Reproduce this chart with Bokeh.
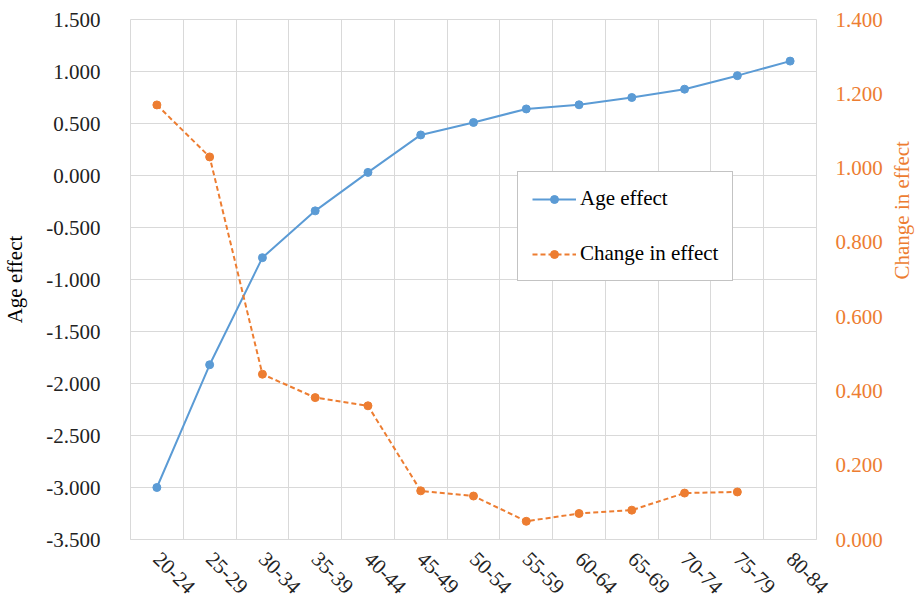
from bokeh.plotting import figure
from bokeh.models import (Range1d, LinearAxis, FixedTicker, NumeralTickFormatter,
                          Legend, LegendItem)
from bokeh.embed import file_html
from bokeh.resources import INLINE

categories = ["20-24", "25-29", "30-34", "35-39", "40-44", "45-49", "50-54",
              "55-59", "60-64", "65-69", "70-74", "75-79", "80-84"]
age_effect = [-3.00, -1.82, -0.79, -0.34, 0.03, 0.39, 0.51, 0.64, 0.68, 0.75, 0.83, 0.96, 1.10]
change_cats = categories[:12]
change_effect = [1.17, 1.03, 0.445, 0.382, 0.360, 0.131, 0.117, 0.049, 0.070, 0.079, 0.125, 0.128]
left_ticks = [-3.5, -3.0, -2.5, -2.0, -1.5, -1.0, -0.5, 0.0, 0.5, 1.0, 1.5]
right_ticks = [0.0, 0.2, 0.4, 0.6, 0.8, 1.0, 1.2, 1.4]

BLUE = "#5B9BD5"
ORANGE = "#ED7D31"
GRID = "#D9D9D9"
FONT = "Liberation Serif"
FS = "21px"

xi = {c: i for i, c in enumerate(categories)}
x_age = [xi[c] for c in categories]
x_chg = [xi[c] for c in change_cats]

p = figure(frame_width=686, frame_height=520, output_backend="svg", toolbar_location=None,
           x_range=Range1d(-0.5, len(categories) - 0.5), y_range=Range1d(-3.5, 1.5),
           min_border_left=121, min_border_right=60, min_border_top=19, min_border_bottom=50)
p.extra_y_ranges = {"right": Range1d(0.0, 1.4)}
p.outline_line_color = GRID
p.background_fill_color = "white"
p.border_fill_color = "white"

# x axis
p.xaxis.ticker = FixedTicker(ticks=x_age)
p.xaxis.major_label_overrides = {i: c for i, c in enumerate(categories)}
p.xaxis.major_label_orientation = -0.785398
p.xaxis.axis_line_color = GRID
p.xaxis.major_tick_line_color = None
p.xaxis.minor_tick_line_color = None
p.xaxis.major_label_text_font = FONT
p.xaxis.major_label_text_font_size = FS
p.xaxis.major_label_text_color = "#222222"
p.xaxis.major_label_standoff = 10

p.xgrid.ticker = FixedTicker(ticks=[i - 0.5 for i in range(len(categories) + 1)])
p.xgrid.grid_line_color = GRID
p.ygrid.ticker = FixedTicker(ticks=left_ticks)
p.ygrid.grid_line_color = GRID

# left axis
p.yaxis.ticker = FixedTicker(ticks=left_ticks)
p.yaxis.formatter = NumeralTickFormatter(format="0.000")
p.yaxis.axis_line_color = None
p.yaxis.major_tick_line_color = None
p.yaxis.minor_tick_line_color = None
p.yaxis.major_label_text_font = FONT
p.yaxis.major_label_text_font_size = FS
p.yaxis.major_label_text_color = "#222222"
p.yaxis.major_label_standoff = 24
p.yaxis.axis_label = "Age effect"
p.yaxis.axis_label_text_font = FONT
p.yaxis.axis_label_text_font_size = FS
p.yaxis.axis_label_text_font_style = "normal"
p.yaxis.axis_label_text_color = "#000000"
p.yaxis.axis_label_standoff = 16

# right axis
ra = LinearAxis(y_range_name="right", ticker=FixedTicker(ticks=right_ticks),
                formatter=NumeralTickFormatter(format="0.000"))
ra.axis_line_color = None
ra.major_tick_line_color = None
ra.minor_tick_line_color = None
ra.major_label_text_font = FONT
ra.major_label_text_font_size = FS
ra.major_label_text_color = ORANGE
ra.major_label_standoff = 13
ra.axis_label = "Change in effect"
ra.axis_label_orientation = 1.5708
ra.axis_label_text_font = FONT
ra.axis_label_text_font_size = FS
ra.axis_label_text_font_style = "normal"
ra.axis_label_text_color = ORANGE
ra.axis_label_standoff = 16
p.add_layout(ra, "right")

l1 = p.line(x_age, age_effect, line_color=BLUE, line_width=2)
s1 = p.scatter(x_age, age_effect, size=8, fill_color=BLUE, line_color=BLUE)
l2 = p.line(x_chg, change_effect, line_color=ORANGE, line_width=2, line_dash="5 3",
            y_range_name="right")
s2 = p.scatter(x_chg, change_effect, size=8, fill_color=ORANGE, line_color=ORANGE,
               y_range_name="right")

legend = Legend(items=[LegendItem(label="Age effect", renderers=[l1, s1]),
                       LegendItem(label="Change in effect", renderers=[l2, s2])],
                location=(387, 258))
legend.label_text_font = FONT
legend.label_text_font_size = FS
legend.label_text_color = "#000000"
legend.glyph_width = 44
legend.glyph_height = 20
legend.label_height = 20
legend.label_standoff = 4
legend.spacing = 30
legend.padding = 14
legend.margin = 0
legend.border_line_color = "#888888"
legend.border_line_width = 1
legend.background_fill_alpha = 1.0
p.add_layout(legend, "center")

open("out.html", "w").write(file_html(p, INLINE))
